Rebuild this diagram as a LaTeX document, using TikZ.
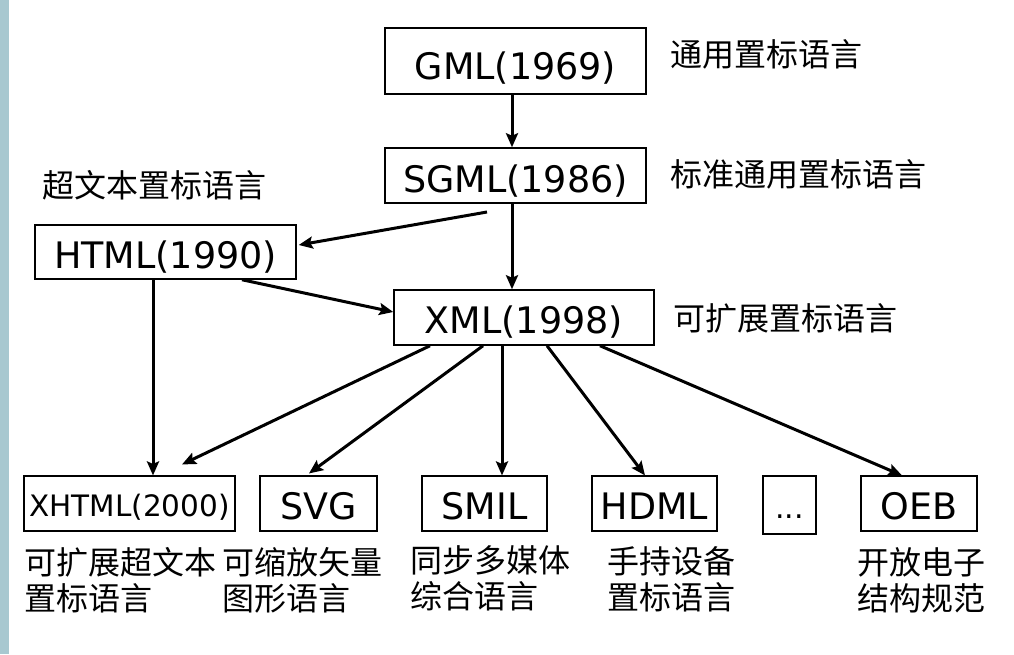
\documentclass[tikz,border=0pt]{standalone}
\usepackage{fontspec}
\setmainfont{DejaVu Sans}
\newfontfamily\cjk{Noto Sans CJK SC}
\usetikzlibrary{arrows.meta}
\definecolor{barcol}{RGB}{168,200,208}
\begin{document}
\begin{tikzpicture}[x=1pt,y=-1pt,
  box/.style={draw, line width=1.5pt, inner sep=0pt, font=\fontsize{36.5}{40}\selectfont,
    text depth=0pt, text height=31pt, minimum height=55pt},
  arr/.style={line width=3pt, -{Stealth[length=14pt,width=12pt,inset=2.5pt]}},
  lbl/.style={inner sep=0pt, anchor=base west, font=\cjk\fontsize{32}{36}\selectfont}
]
\useasboundingbox (0,0) rectangle (1014,654);
\fill[white] (0,0) rectangle (1014,654);
\fill[barcol] (0,0) rectangle (9,654);

% boxes
\node[box, minimum width=261pt, minimum height=66pt, text height=37pt] (gml) at (515.5,61) {GML(1969)};
\node[box, minimum width=261pt, text height=33pt] (sgml) at (515.5,175.5) {SGML(1986)};
\node[box, minimum width=261pt, minimum height=54pt, text height=32pt] (html) at (165.5,252) {HTML(1990)};
\node[box, minimum width=260pt] (xml) at (524,317.5) {XML(1998)};
\node[box, minimum width=211pt, text height=25.5pt, font=\fontsize{29.5}{32}\selectfont] (xhtml) at (129.5,503.7) {XHTML(2000)};
\node[box, minimum width=117pt] (svg) at (318.5,503.7) {SVG};
\node[box, minimum width=125pt] (smil) at (484.5,503.7) {SMIL};
\node[box, minimum width=125pt] (hdml) at (654.5,503.7) {HDML};
\node[box, minimum width=53pt, minimum height=58pt, text height=26pt, font=\fontsize{30}{32}\selectfont] (dots) at (789.5,505) {...};
\node[box, minimum width=116pt] (oeb) at (919,503.7) {OEB};

% labels
\node[lbl] (lgml) at (670,66) {通用置标语言};
\node[lbl] (lsgml) at (670,186) {标准通用置标语言};
\node[lbl] (lhtml) at (42,197) {超文本置标语言};
\node[lbl] (lxml) at (673,330) {可扩展置标语言};
\node[lbl] (lxhtml) at (24,574) {\vtop{\hbox{可扩展超文本}\hbox{置标语言}}};
\node[lbl] (lsvg) at (222,574) {\vtop{\hbox{可缩放矢量}\hbox{图形语言}}};
\node[lbl] (lsmil) at (410,572) {\vtop{\hbox{同步多媒体}\hbox{综合语言}}};
\node[lbl] (lhdml) at (607,573) {\vtop{\hbox{手持设备}\hbox{置标语言}}};
\node[lbl] (loeb) at (857,574) {\vtop{\hbox{开放电子}\hbox{结构规范}}};

% connectors
\coordinate (s1) at (487,212);
\draw[arr] ([xshift=-3.5pt]gml.south) -- ([xshift=-3.5pt]sgml.north);
\draw[arr] ([xshift=-3.5pt]sgml.south) -- ([xshift=-12pt]xml.north);
\draw[arr] (s1) -- ([xshift=2pt,yshift=7pt]html.east);
\draw[arr] ([xshift=76.5pt]html.south) -- ([yshift=5.5pt]xml.west);
\draw[arr] ([xshift=-12.5pt]html.south) -- ([xshift=23.5pt]xhtml.north);
\draw[arr] ([xshift=-94pt]xml.south) -- ([xshift=52.5pt,yshift=11pt]xhtml.north);
\draw[arr] ([xshift=-41pt]xml.south) -- ([xshift=-9.5pt,yshift=2pt]svg.north);
\draw[arr] ([xshift=-22pt]xml.south) -- ([xshift=17.5pt]smil.north);
\draw[arr] ([xshift=23pt]xml.south) -- ([xshift=-9.5pt]hdml.north);
\draw[arr] ([xshift=76pt]xml.south) -- ([xshift=-17pt]oeb.north);
\end{tikzpicture}
\end{document}
